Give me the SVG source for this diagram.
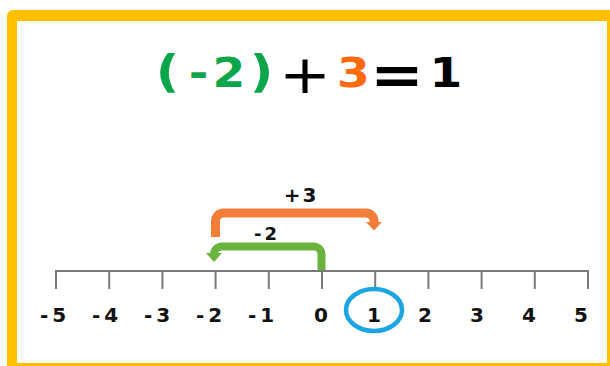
<svg xmlns="http://www.w3.org/2000/svg" width="610" height="366" viewBox="0 0 610 366">
<style>
.num{font-family:"DejaVu Sans",sans-serif;font-weight:bold;font-size:20px;fill:#111;text-anchor:middle}
.lbl{font-family:"DejaVu Sans",sans-serif;font-weight:bold;fill:#111;text-anchor:middle}
.tick{stroke:#7a7a7a;stroke-width:2;fill:none}
</style>
<rect x="7" y="10" width="620" height="370" rx="6" fill="#FFC000"/>
<rect x="17" y="21" width="590" height="342" fill="#FFFFFF"/>
<g id="equation">
<text transform="scale(1.15,1)" font-family="DejaVu Sans,sans-serif" font-weight="bold" font-size="41" text-anchor="middle">
<tspan x="145.7" y="87" fill="#0BA64B" font-size="45">(</tspan><tspan x="172.6" y="87" fill="#0BA64B">-</tspan><tspan x="199.1" y="87" fill="#0BA64B">2</tspan><tspan x="227.4" y="87" fill="#0BA64B" font-size="45">)</tspan><tspan x="265.2" y="93" fill="#000" font-weight="normal" font-size="54">+</tspan><tspan x="307.4" y="87" fill="#FF6A0D">3</tspan><tspan x="345.2" y="94" fill="#000" font-size="56">=</tspan><tspan x="387.8" y="87" fill="#000">1</tspan>
</text>
</g>
<g id="number-line">
<path class="tick" d="M56 271H588M56 270V289M109.2 271V289M162.4 271V289M215.6 271V289M268.8 271V289M322 271V289M375.2 271V289M428.4 271V289M481.6 271V289M534.8 271V289M588 270V289"/>
</g>
<g id="labels">
<text class="num" x="53" y="322">-<tspan dx="4">5</tspan></text>
<text class="num" x="105" y="322">-<tspan dx="4">4</tspan></text>
<text class="num" x="157" y="322">-<tspan dx="4">3</tspan></text>
<text class="num" x="209" y="322">-<tspan dx="4">2</tspan></text>
<text class="num" x="261" y="322">-<tspan dx="4">1</tspan></text>
<text class="num" x="321" y="322">0</text>
<text class="num" x="374" y="322">1</text>
<text class="num" x="425" y="322">2</text>
<text class="num" x="477" y="322">3</text>
<text class="num" x="529" y="322">4</text>
<text class="num" x="581" y="322">5</text>
</g>
<g id="answer-circle">
<ellipse cx="374" cy="310" rx="28" ry="21" fill="none" stroke="#1BA6E3" stroke-width="4.5"/>
</g>
<g id="connectors">
<path d="M215.5 237V221A8 8 0 0 1 223.5 213H366A8 8 0 0 1 374 221V223" fill="none" stroke="#F37E3A" stroke-width="9"/>
<polygon points="366,222 382,222 374,230.5" fill="#F37E3A"/>
<path d="M321.5 270V254.5A8 8 0 0 0 313.5 246.5H222A8 8 0 0 0 214 254.5V254" fill="none" stroke="#6AB43E" stroke-width="8"/>
<polygon points="206,253 222,253 214,262" fill="#6AB43E"/>
</g>
<g id="step-labels">
<text class="lbl" x="301" y="202" font-size="20" letter-spacing="2">+3</text>
<text class="lbl" x="267" y="240" font-size="18" letter-spacing="3">-2</text>
</g>
</svg>
